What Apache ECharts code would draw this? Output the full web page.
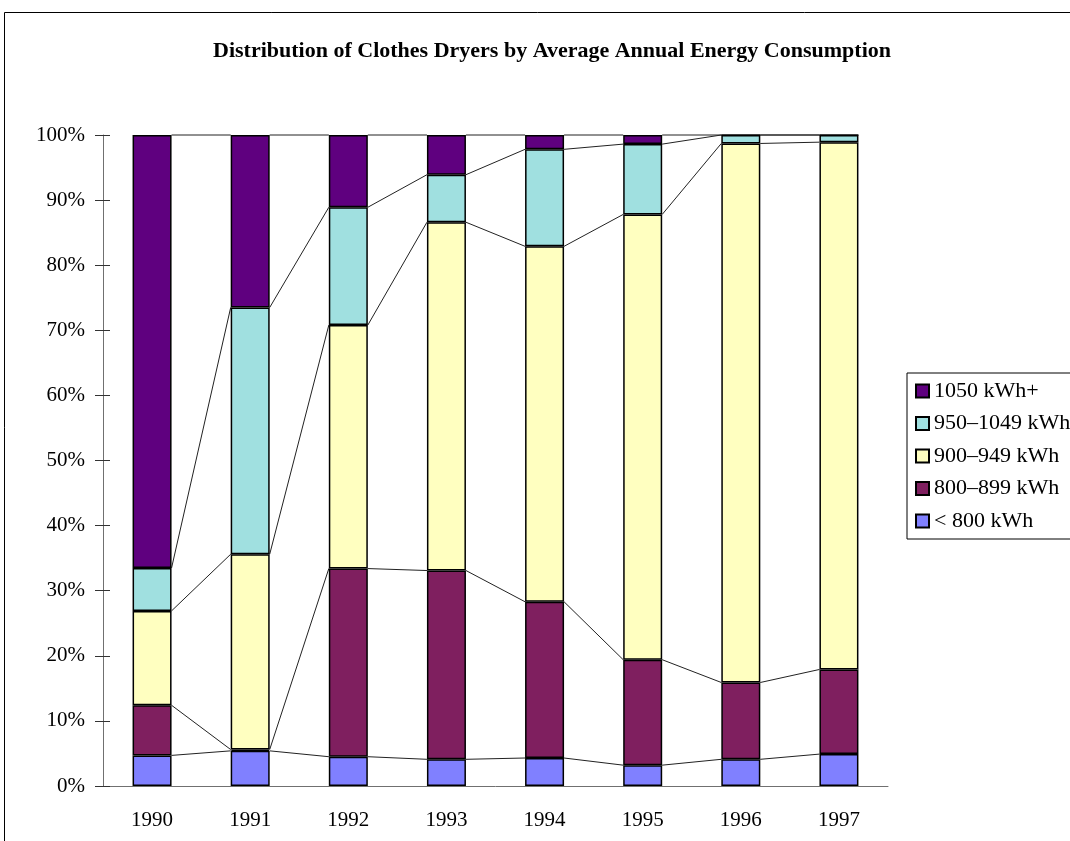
<!DOCTYPE html>
<html>
<head>
<meta charset="utf-8">
<script src="https://cdn.jsdelivr.net/npm/echarts@6/dist/echarts.min.js"></script>
<style>
  html, body { margin: 0; padding: 0; background: #fff; }
  #chart { width: 1070px; height: 841px; }
</style>
</head>
<body>
<div id="chart"></div>
<script>
const years = ['1990', '1991', '1992', '1993', '1994', '1995', '1996', '1997']

// shares in percent, bottom of the stack first
const under800 = [4.7, 5.4, 4.5, 4.1, 4.3, 3.2, 4.1, 4.9]
const kwh800 = [7.7, 0.2, 28.9, 29.0, 24.0, 16.2, 11.8, 13.0]
const kwh900 = [14.5, 30.0, 37.4, 53.5, 54.6, 68.4, 82.8, 81.0]
const kwh950 = [6.6, 37.9, 18.1, 7.3, 14.9, 10.8, 1.3, 1.1]
const kwh1050 = [66.5, 26.5, 11.1, 6.1, 2.2, 1.4, 0, 0]

const seriesNames = ['< 800 kWh', '800\u2013899 kWh', '900\u2013949 kWh', '950\u20131049 kWh', '1050 kWh+']
const seriesValues = [under800, kwh800, kwh900, kwh950, kwh1050]
const colors = ['#8080FF', '#7F1F5F', '#FFFFC0', '#A0E0E0', '#5F007F']

const FONT = '"Liberation Serif", "Times New Roman", serif'
const BAR_W = 39

const myChart = echarts.init(document.getElementById('chart'), null, { renderer: 'canvas' })

// running tops of each segment, used for the connector lines
const tops = []
let run = years.map(() => 0)
seriesValues.forEach((vals) => {
  run = run.map((r, i) => r + vals[i])
  tops.push(run.slice())
})

const lineData = []
tops.forEach((t) => {
  for (let i = 0; i < years.length - 1; i++) {
    lineData.push([i, t[i], t[i + 1]])
  }
})

const barSeries = seriesNames.map((name, k) => ({
  name: name,
  type: 'bar',
  stack: 'total',
  barWidth: BAR_W,
  data: seriesValues[k],
  itemStyle: { color: colors[k], borderColor: '#000', borderWidth: 1.5 },
  emphasis: { disabled: true },
  z: 3,
}))

myChart.setOption({
  animation: false,
  backgroundColor: '#fff',
  title: {
    text: 'Distribution of Clothes Dryers by Average Annual Energy Consumption',
    left: 547,
    textAlign: 'center',
    top: 35,
    textStyle: { fontFamily: FONT, fontSize: 22, fontWeight: 'bold', color: '#000' },
  },
  graphic: [
    {
      type: 'rect',
      shape: { x: 4.5, y: 12.5, width: 1200, height: 1000 },
      style: { fill: 'none', stroke: '#000', lineWidth: 1 },
      silent: true,
    },
  ],
  legend: {
    orient: 'vertical',
    left: 907,
    top: 373,
    data: seriesNames.slice().reverse(),
    icon: 'rect',
    itemWidth: 13,
    itemHeight: 13,
    itemGap: 10.5,
    padding: [7, 10, 7, 8],
    borderColor: '#000',
    borderWidth: 1,
    borderRadius: 0,
    textStyle: { fontFamily: FONT, fontSize: 22, color: '#000' },
  },
  grid: { left: 103, right: 182, top: 135, bottom: 55, containLabel: false },
  xAxis: {
    type: 'category',
    data: years,
    boundaryGap: true,
    axisLine: { lineStyle: { color: '#707070', width: 1 } },
    axisTick: { show: false },
    axisLabel: { fontFamily: FONT, fontSize: 21, color: '#000', margin: 24 },
  },
  yAxis: [
    {
      type: 'value',
      min: 0,
      max: 100,
      interval: 10,
      axisLine: { show: true, lineStyle: { color: '#707070', width: 1 } },
      axisTick: { show: true, length: 8, lineStyle: { color: '#333' } },
      splitLine: { show: false },
      axisLabel: {
        fontFamily: FONT,
        fontSize: 21,
        color: '#000',
        margin: 18,
        formatter: '{value}%',
      },
    },
    {
      type: 'value',
      position: 'left',
      min: 0,
      max: 100,
      interval: 10,
      axisLine: { show: false },
      axisTick: { show: true, inside: true, length: 7, lineStyle: { color: '#333' } },
      splitLine: { show: false },
      axisLabel: { show: false },
    },
  ],
  series: [
    ...barSeries,
    {
      // Excel style series lines between neighbouring bars
      type: 'custom',
      name: 'lines',
      silent: true,
      z: 2,
      encode: { x: 0, y: 1 },
      data: lineData,
      renderItem: function (params, api) {
        const i = api.value(0)
        const p1 = api.coord([i, api.value(1)])
        const p2 = api.coord([i + 1, api.value(2)])
        return {
          type: 'line',
          shape: { x1: p1[0] + BAR_W / 2, y1: p1[1], x2: p2[0] - BAR_W / 2, y2: p2[1] },
          style: { stroke: '#222', lineWidth: 1 },
        }
      },
    },
  ],
})
</script>
</body>
</html>
